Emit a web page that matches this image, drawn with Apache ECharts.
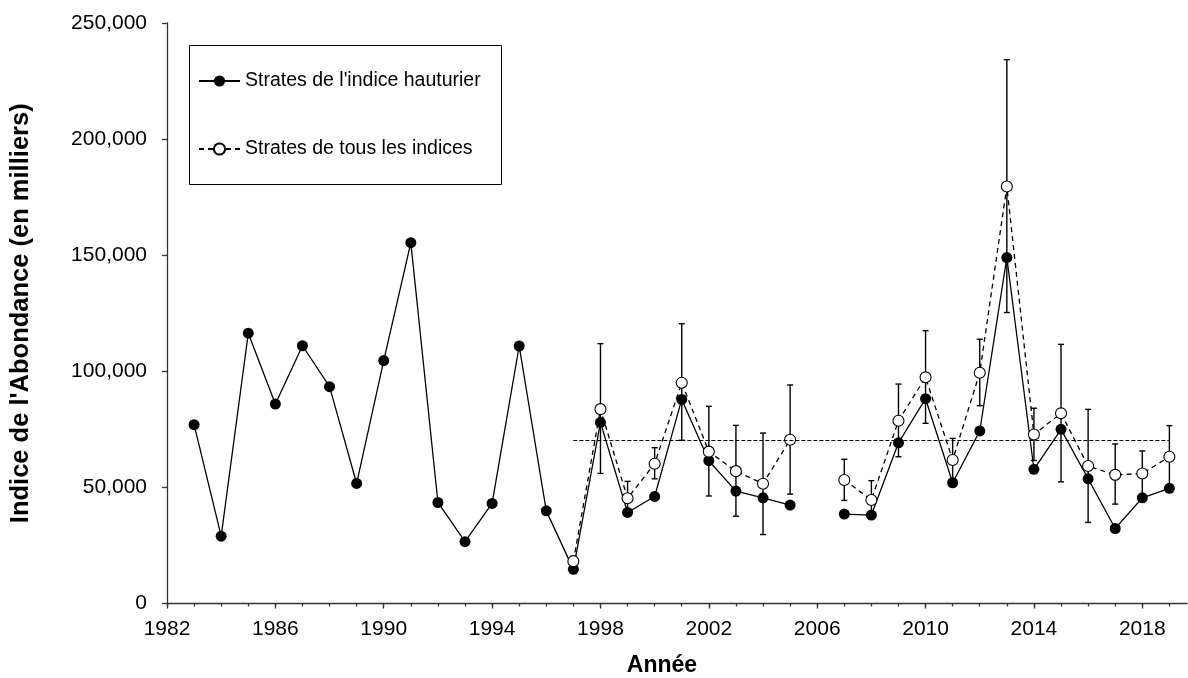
<!DOCTYPE html>
<html>
<head>
<meta charset="utf-8">
<script src="https://cdn.jsdelivr.net/npm/echarts@6/dist/echarts.min.js"></script>
<style>
html,body{margin:0;padding:0;background:#fff;}
#chart{width:1188px;height:678px;}
</style>
</head>
<body>
<div id="chart"></div>
<script>
// ---- Data ----
const years = [1983,1984,1985,1986,1987,1988,1989,1990,1991,1992,1993,1994,1995,1996,1997,1998,1999,2000,2001,2002,2003,2004,2005,2006,2007,2008,2009,2010,2011,2012,2013,2014,2015,2016,2017,2018,2019];
const hauturier = [77000,29000,116400,85900,111000,93400,51700,104600,155400,43500,26600,43100,110900,39900,14700,78000,39200,46100,87900,61500,48400,45500,42400,null,38500,38100,69200,88200,52000,74300,149000,57800,75000,53700,32300,45500,49600];
const tousIndices = [null,null,null,null,null,null,null,null,null,null,null,null,null,null,18200,83700,45300,60200,95100,65400,57000,51600,70500,null,53200,44600,78700,97400,61800,99400,179600,72800,81900,59200,55400,56000,63200];
const errLow  = [null,null,null,null,null,null,null,null,null,null,null,null,null,null,15900,56000,38000,53700,70300,46300,37600,29700,47100,null,44400,36800,63200,77600,52400,85200,125300,61600,52400,34900,42800,46400,49800];
const errHigh = [null,null,null,null,null,null,null,null,null,null,null,null,null,null,20400,111900,52600,67100,120500,84900,76700,73400,94100,null,62100,52900,94500,117500,71100,113800,234200,84100,111600,83600,68700,65700,76600];
const refValue = 70500;
const refStart = 1997;
const refEnd = 2019;
const xTickLabels = [1982,1986,1990,1994,1998,2002,2006,2010,2014,2018];
const xMinorTicks = [1982,1983,1984,1985,1986,1987,1988,1989,1990,1991,1992,1993,1994,1995,1996,1997,1998,1999,2000,2001,2002,2003,2004,2005,2006,2007,2008,2009,2010,2011,2012,2013,2014,2015,2016,2017,2018,2019];
const yTicks = [0,50000,100000,150000,200000,250000];
const seriesNames = ["Strates de l'indice hauturier", "Strates de tous les indices"];

// ---- Build ----
const toPairs = arr => years.map((y,i) => [y, arr[i] == null ? '-' : arr[i]]);
const errData = [];
years.forEach((y,i) => { if (errLow[i] != null) errData.push([y, errLow[i], errHigh[i]]); });

const FONT = "'Liberation Sans', Arial, sans-serif";
const chart = echarts.init(document.getElementById('chart'), null, {renderer:'canvas'});

const xMin = 1982, xMax = 2019.65;

chart.setOption({
  animation: false,
  backgroundColor: '#fff',
  textStyle: {fontFamily: FONT, color: '#000'},
  grid: {left: 167, right: 1, top: 23, bottom: 74.5, containLabel: false, outerBoundsMode: 'none'},
  graphic: [{
    type: 'rect', left: 189, top: 45, z: 100,
    shape: {width: 312, height: 139},
    style: {fill: 'rgba(0,0,0,0)', stroke: '#000', lineWidth: 1}
  }],
  legend: {
    left: 193, top: 66, orient: 'vertical', itemGap: 48,
    itemWidth: 41, itemHeight: 14, z: 101, padding: 5,
    textStyle: {fontFamily: FONT, fontSize: 19.5, color: '#000'},
    data: seriesNames
  },
  xAxis: [{
    type: 'value', min: xMin, max: xMax,
    name: 'Année', nameLocation: 'middle', nameGap: 51,
    nameTextStyle: {fontFamily: FONT, fontSize: 23, fontWeight: 'bold', color: '#000', padding: [0, 30, 0, 0]},
    axisLine: {show: true, onZero: false, lineStyle: {color: '#333', width: 1.3}},
    axisTick: {show: true, length: 3, customValues: xMinorTicks, lineStyle: {color: '#333', width: 1.3}},
    axisLabel: {show: true, fontSize: 21, margin: 15, color: '#000', fontFamily: FONT, customValues: xTickLabels, formatter: v => String(v)},
    splitLine: {show: false}
  }, {
    type: 'value', min: xMin, max: xMax, position: 'bottom',
    axisLine: {show: false, onZero: false},
    axisTick: {show: true, length: 5, customValues: xTickLabels, lineStyle: {color: '#333', width: 1.3}},
    axisLabel: {show: false},
    splitLine: {show: false}
  }],
  yAxis: {
    type: 'value', min: 0, max: 250000, interval: 50000,
    name: "Indice de l'Abondance (en milliers)", nameLocation: 'middle', nameGap: 133,
    nameTextStyle: {fontFamily: FONT, fontSize: 25.5, fontWeight: 'bold', color: '#000'},
    axisLine: {show: true, lineStyle: {color: '#333', width: 1.3}},
    axisTick: {show: true, length: 5, customValues: yTicks, lineStyle: {color: '#333', width: 1.3}},
    axisLabel: {fontSize: 21, margin: 20, color: '#000', fontFamily: FONT, customValues: yTicks, formatter: v => v.toLocaleString('en-US')},
    splitLine: {show: false}
  },
  series: [{
    name: 'errorbars', type: 'custom', z: 1, silent: true,
    data: errData,
    encode: {x: 0, y: [1, 2]},
    renderItem: function (params, api) {
      const x = api.value(0);
      const lo = api.coord([x, api.value(1)]);
      const hi = api.coord([x, api.value(2)]);
      const cap = 3;
      const st = {stroke: '#000', lineWidth: 1.4};
      return {type: 'group', children: [
        {type: 'line', shape: {x1: lo[0], y1: lo[1], x2: hi[0], y2: hi[1]}, style: st},
        {type: 'line', shape: {x1: hi[0]-cap, y1: hi[1], x2: hi[0]+cap, y2: hi[1]}, style: st},
        {type: 'line', shape: {x1: lo[0]-cap, y1: lo[1], x2: lo[0]+cap, y2: lo[1]}, style: st}
      ]};
    }
  }, {
    name: seriesNames[0], type: 'line', z: 3,
    data: toPairs(hauturier),
    symbol: 'circle', symbolSize: 11, showSymbol: true, connectNulls: false,
    lineStyle: {color: '#000', width: 1.3, type: 'solid'},
    itemStyle: {color: '#000', borderColor: '#000', borderWidth: 0},
    markLine: {
      silent: true, symbol: 'none', label: {show: false},
      lineStyle: {color: '#000', width: 1.2, type: [4, 2]},
      data: [[{coord: [refStart, refValue]}, {coord: [refEnd, refValue]}]]
    }
  }, {
    name: seriesNames[1], type: 'line', z: 4,
    data: toPairs(tousIndices),
    symbol: 'circle', symbolSize: 11, showSymbol: true, connectNulls: false,
    lineStyle: {color: '#000', width: 1.3, type: [5, 4]},
    itemStyle: {color: '#fff', borderColor: '#000', borderWidth: 1.1}
  }]
});
</script>
</body>
</html>
